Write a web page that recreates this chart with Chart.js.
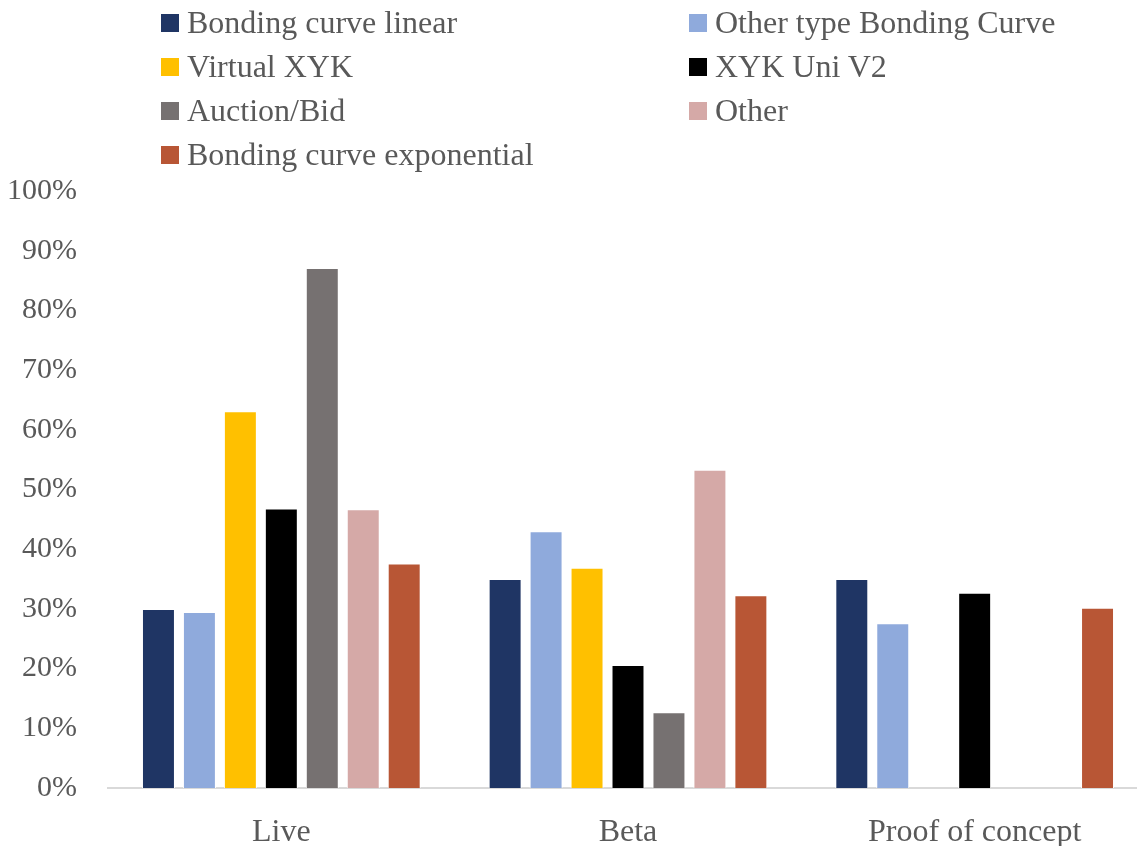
<!DOCTYPE html>
<html>
<head>
<meta charset="utf-8">
<script src="https://cdn.jsdelivr.net/npm/chart.js@4/dist/chart.umd.min.js"></script>
<style>
  html, body { margin: 0; padding: 0; background: #fff; overflow: hidden; }
  #wrap { position: relative; width: 1137px; height: 846px; overflow: hidden; }
  #chartBox { position: absolute; left: 0; top: 0; width: 1148px; height: 846px; }
  #legend { position: absolute; left: 0; top: 0; width: 1137px; height: 180px; }
  .item { position: absolute; height: 30px; }
  .item .box { position: absolute; left: 0; top: 7px; width: 18px; height: 18px; }
  .item .txt { position: absolute; left: 26px; top: 0; white-space: nowrap;
    font-family: "Liberation Serif", serif; font-size: 32px; line-height: 30px; color: #595959; }
</style>
</head>
<body>
<div id="wrap">
  <div id="chartBox"><canvas id="c"></canvas></div>
  <div id="legend"></div>
</div>
<script>
// Stage of each project
const categories = ["Live", "Beta", "Proof of concept"];

// Share (%) of projects using each pricing mechanism, per stage
const bondingLinear      = [30.0, 35.0, 35.0];
const otherBondingCurve  = [29.5, 43.0, 27.6];
const virtualXYK         = [63.1, 36.9, 0];
const xykUniV2           = [46.8, 20.6, 32.7];
const auctionBid         = [87.1, 12.7, 0];
const otherMechanism     = [46.7, 53.3, 0];
const bondingExponential = [37.6, 32.3, 30.2];

const seriesNames = [
  "Bonding curve linear", "Other type Bonding Curve", "Virtual XYK", "XYK Uni V2",
  "Auction/Bid", "Other", "Bonding curve exponential"
];
const seriesValues = [
  bondingLinear, otherBondingCurve, virtualXYK, xykUniV2,
  auctionBid, otherMechanism, bondingExponential
];
const seriesColors = ["#1F3564", "#8FAADC", "#FFC000", "#000000", "#767171", "#D5A9A7", "#B85635"];

// Y axis ticks
const yTickValues = [0, 10, 20, 30, 40, 50, 60, 70, 80, 90, 100];

const FONT = "'Liberation Serif', serif";
const TEXT = "#595959";

const datasets = seriesNames.map((name, i) => ({
  label: name,
  data: seriesValues[i],
  backgroundColor: seriesColors[i],
  borderColor: "#ffffff",
  borderWidth: 1,
  categoryPercentage: 0.827,
  barPercentage: 0.805
}));

const chart = new Chart(document.getElementById("c"), {
  type: "bar",
  data: { labels: categories, datasets },
  options: {
    responsive: true,
    maintainAspectRatio: false,
    animation: false,
    layout: { padding: { top: 191, left: 0, right: 0, bottom: 0 } },
    plugins: { legend: { display: false }, tooltip: { enabled: false } },
    scales: {
      x: {
        grid: { display: false, drawTicks: false },
        border: { display: true, color: "#D9D9D9", width: 2 },
        ticks: { color: TEXT, font: { family: FONT, size: 32 }, padding: 25 },
        afterFit: (s) => { s.height = 58; }
      },
      y: {
        min: 0, max: 100,
        afterBuildTicks: (s) => { s.ticks = yTickValues.map(v => ({ value: v })); },
        grid: { display: false, drawTicks: false },
        border: { display: false },
        ticks: {
          color: TEXT, font: { family: FONT, size: 30 }, padding: 31,
          callback: (v) => v + "%"
        },
        afterFit: (s) => { s.width = 108; }
      }
    }
  }
});

// Two-column legend built from the chart's datasets
const legend = document.getElementById("legend");
chart.data.datasets.forEach((ds, i) => {
  const row = Math.floor(i / 2), col = i % 2;
  const item = document.createElement("div");
  item.className = "item";
  item.style.left = (col === 0 ? 161 : 689) + "px";
  item.style.top = (7 + row * 44) + "px";
  const box = document.createElement("span");
  box.className = "box";
  box.style.background = ds.backgroundColor;
  const txt = document.createElement("span");
  txt.className = "txt";
  txt.textContent = ds.label;
  item.appendChild(box);
  item.appendChild(txt);
  legend.appendChild(item);
});
</script>
</body>
</html>
